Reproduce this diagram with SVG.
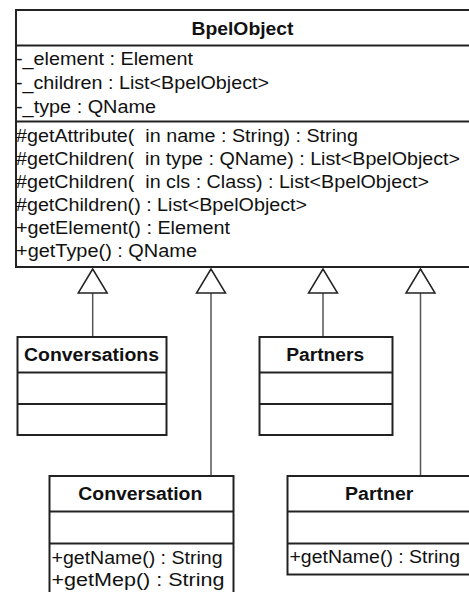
<svg xmlns="http://www.w3.org/2000/svg" width="469" height="592" viewBox="0 0 469 592">
  <style>
    .box { fill: #ffffff; stroke: #222222; stroke-width: 2; }
    .sep { stroke: #222222; stroke-width: 2; fill: none; }
    .title { font-family: "Liberation Sans", Arial, sans-serif; font-size: 17.5px; font-weight: bold; fill: #111111; text-anchor: middle; }
    .member { font-family: "Liberation Sans", Arial, sans-serif; font-size: 17.5px; fill: #111111; }
    .gen { stroke: #555555; stroke-width: 1.5; fill: none; marker-end: url(#hollow-tri); }
  </style>
  <defs>
    <!-- hollow triangle for generalization, apex at the path end -->
    <marker id="hollow-tri" markerUnits="userSpaceOnUse" markerWidth="28" markerHeight="33" viewBox="-2 -16.5 28 33" refX="24" refY="0" orient="auto" overflow="visible">
      <path d="M24,0 L0,-14.5 L0,14.5 Z" fill="#ffffff" stroke="#222222" stroke-width="1.5" stroke-linejoin="miter"/>
    </marker>
  </defs>

  <rect width="469" height="592" fill="#ffffff"/>

  <!-- connectors: generalizations up to BpelObject -->
  <g id="connectors">
    <path class="gen" d="M92.7,337 L92.7,269"/>
    <path class="gen" d="M211,476 L211,269"/>
    <path class="gen" d="M323,337 L323,269"/>
    <path class="gen" d="M420.5,476 L420.5,269"/>
  </g>

  <g id="BpelObject">
    <rect class="box" x="16" y="10" width="470" height="257"/>
    <line class="sep" x1="16" y1="45.5" x2="486" y2="45.5"/>
    <line class="sep" x1="16" y1="121.5" x2="486" y2="121.5"/>
    <text class="title" x="242.5" y="34.5" textLength="102" lengthAdjust="spacingAndGlyphs">BpelObject</text>
    <text class="member" x="16" y="65" textLength="177" lengthAdjust="spacingAndGlyphs">-_element : Element</text>
    <text class="member" x="16" y="89" textLength="253" lengthAdjust="spacingAndGlyphs">-_children : List&lt;BpelObject&gt;</text>
    <text class="member" x="16" y="113" textLength="140" lengthAdjust="spacingAndGlyphs">-_type : QName</text>
    <text class="member" x="16" y="141.5" textLength="342" lengthAdjust="spacingAndGlyphs" xml:space="preserve">#getAttribute(  in name : String) : String</text>
    <text class="member" x="16" y="164.6" textLength="444" lengthAdjust="spacingAndGlyphs" xml:space="preserve">#getChildren(  in type : QName) : List&lt;BpelObject&gt;</text>
    <text class="member" x="16" y="187.7" textLength="413" lengthAdjust="spacingAndGlyphs" xml:space="preserve">#getChildren(  in cls : Class) : List&lt;BpelObject&gt;</text>
    <text class="member" x="16" y="210.8" textLength="291" lengthAdjust="spacingAndGlyphs">#getChildren() : List&lt;BpelObject&gt;</text>
    <text class="member" x="16" y="233.9" textLength="214" lengthAdjust="spacingAndGlyphs">+getElement() : Element</text>
    <text class="member" x="16" y="257" textLength="181" lengthAdjust="spacingAndGlyphs">+getType() : QName</text>
  </g>

  <g id="Conversations">
    <rect class="box" x="17.5" y="337" width="149" height="98"/>
    <line class="sep" x1="17.5" y1="372.5" x2="166.5" y2="372.5"/>
    <line class="sep" x1="17.5" y1="404" x2="166.5" y2="404"/>
    <text class="title" x="91.5" y="360.7" textLength="135" lengthAdjust="spacingAndGlyphs">Conversations</text>
  </g>

  <g id="Partners">
    <rect class="box" x="259.5" y="337" width="133" height="98"/>
    <line class="sep" x1="259.5" y1="372.5" x2="392.5" y2="372.5"/>
    <line class="sep" x1="259.5" y1="404" x2="392.5" y2="404"/>
    <text class="title" x="325.2" y="360.7" textLength="78" lengthAdjust="spacingAndGlyphs">Partners</text>
  </g>

  <g id="Conversation">
    <rect class="box" x="49.5" y="476" width="184" height="130"/>
    <line class="sep" x1="49.5" y1="511.5" x2="233.5" y2="511.5"/>
    <line class="sep" x1="49.5" y1="543.5" x2="233.5" y2="543.5"/>
    <text class="title" x="140.3" y="500" textLength="124" lengthAdjust="spacingAndGlyphs">Conversation</text>
    <text class="member" x="51.5" y="564" textLength="171" lengthAdjust="spacingAndGlyphs">+getName() : String</text>
    <text class="member" x="51.5" y="586" textLength="173" lengthAdjust="spacingAndGlyphs">+getMep() : String</text>
  </g>

  <g id="Partner">
    <rect class="box" x="287.5" y="476" width="190" height="98.5"/>
    <line class="sep" x1="287.5" y1="511.5" x2="477.5" y2="511.5"/>
    <line class="sep" x1="287.5" y1="543.5" x2="477.5" y2="543.5"/>
    <text class="title" x="379.2" y="500" textLength="68.3" lengthAdjust="spacingAndGlyphs">Partner</text>
    <text class="member" x="289.5" y="563" textLength="170.5" lengthAdjust="spacingAndGlyphs">+getName() : String</text>
  </g>
</svg>
